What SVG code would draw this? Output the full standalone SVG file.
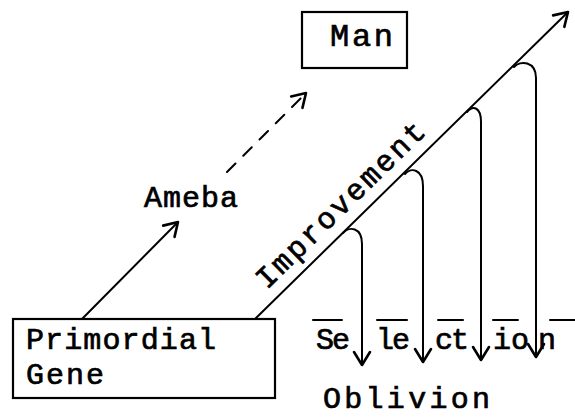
<svg xmlns="http://www.w3.org/2000/svg" width="575" height="417" viewBox="0 0 575 417">
<style>
.t{font-family:"Liberation Mono","Courier New",monospace;font-size:30px;fill:#000;stroke:#000;stroke-width:0.7}
.big{font-size:32px}
.box{fill:#fff;stroke:#000;stroke-width:2.2}
.ln{fill:none;stroke:#000;stroke-width:2;stroke-linecap:round}
</style>
<defs>
<marker id="ah" markerUnits="userSpaceOnUse" markerWidth="30" markerHeight="30" viewBox="-15 -15 30 30" refX="0" refY="0" orient="auto">
<path d="M-13,-8 L0,0 L-13,8" fill="none" stroke="#000" stroke-width="2.6" stroke-linecap="round" stroke-linejoin="round"/>
</marker>
</defs>
<rect width="575" height="417" fill="#fff"/>
<g id="connectors">
<line class="ln" x1="82" y1="319" x2="178" y2="222" marker-end="url(#ah)"/>
<line class="ln" x1="227" y1="172" x2="306" y2="93" stroke-dasharray="12,11" marker-end="url(#ah)"/>
<line class="ln" x1="255" y1="319" x2="568" y2="12" marker-end="url(#ah)"/>
<path class="ln" d="M343,233 C349,226 362,227 362,244 L362,365" marker-end="url(#ah)"/>
<path class="ln" d="M405,174 C411,167 423,169 423,186 L423,362" marker-end="url(#ah)"/>
<path class="ln" d="M467,112 C473,105 481,107 481,122 L481,360" marker-end="url(#ah)"/>
<path class="ln" d="M514,67 C520,60 536,61 536,78 L536,357" marker-end="url(#ah)"/>
</g>
<g id="primordial-gene">
<rect class="box" x="13" y="319" width="262" height="79"/>
<text class="t" x="26" y="349" textLength="190" lengthAdjust="spacing">Primordial</text>
<text class="t" x="26" y="384" textLength="78" lengthAdjust="spacing">Gene</text>
</g>
<g id="man">
<rect class="box" x="302" y="12" width="105" height="56"/>
<text class="t big" x="330" y="46" textLength="63" lengthAdjust="spacing">Man</text>
</g>
<g id="ameba">
<text class="t" x="144" y="207" textLength="94" lengthAdjust="spacing">Ameba</text>
</g>
<g id="improvement">
<text class="t" transform="translate(267,290) rotate(-44.4)" textLength="224" lengthAdjust="spacing">Improvement</text>
</g>
<g id="selection">
<g class="ln">
<line x1="313" y1="320" x2="342" y2="320"/>
<line x1="377" y1="320" x2="407" y2="320"/>
<line x1="438" y1="320" x2="463" y2="320"/>
<line x1="493" y1="320" x2="518" y2="320"/>
<line x1="550" y1="320" x2="575" y2="320"/>
</g>
<text class="t" x="316" y="349" textLength="34" lengthAdjust="spacing">Se</text>
<text class="t" x="376" y="349" textLength="34" lengthAdjust="spacing">le</text>
<text class="t" x="435" y="349" textLength="34" lengthAdjust="spacing">ct</text>
<text class="t" x="493" y="349" textLength="36" lengthAdjust="spacing">io</text>
<text class="t" x="538" y="349">n</text>
</g>
<g id="oblivion">
<text class="t" x="323" y="408" textLength="167" lengthAdjust="spacing">Oblivion</text>
</g>
</svg>
